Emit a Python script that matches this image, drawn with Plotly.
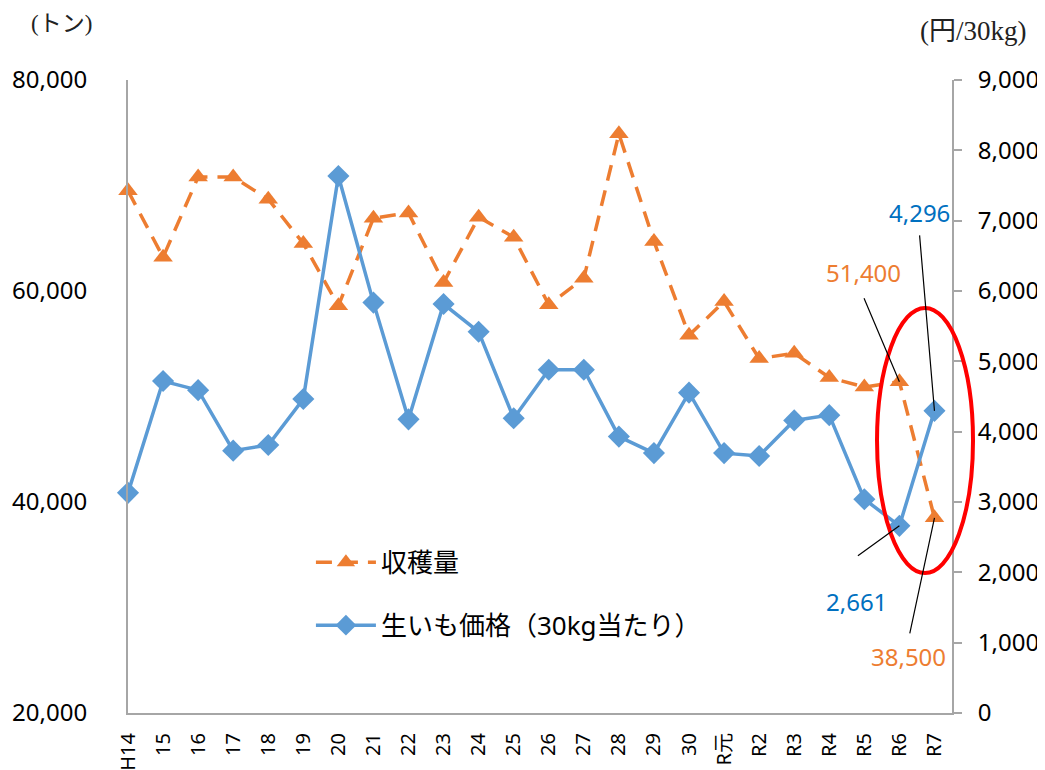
import plotly.graph_objects as go

years = ['H14', '15', '16', '17', '18', '19', '20', '21', '22', '23', '24', '25',
         '26', '27', '28', '29', '30', 'R元', 'R2', 'R3', 'R4', 'R5', 'R6', 'R7']
harvest = [69500, 63200, 70800, 70800, 68700, 64500, 58600, 66900, 67400, 60800,
           67000, 65100, 58700, 61200, 74900, 64700, 55800, 59000, 53600, 54100,
           51800, 50900, 51400, 38500]
price = [3130, 4720, 4590, 3730, 3810, 4465, 7635, 5835, 4175, 5815, 5420, 4190,
         4880, 4880, 3930, 3695, 4555, 3695, 3655, 4160, 4235, 3040, 2661, 4296]

ORANGE = '#ED7D31'
BLUE = '#5B9BD5'
AXIS = '#A6A6A6'
FONT = 'Noto Sans, Noto Sans CJK JP'
SERIF = 'Liberation Serif, Noto Sans CJK JP'

fig = go.Figure()
fig.add_trace(go.Scatter(
    x=years, y=harvest, name='収穫量', yaxis='y', legendgroup='a',
    mode='lines+markers', cliponaxis=False,
    line=dict(color=ORANGE, width=3.5, dash='16px,10px'),
    marker=dict(symbol='triangle-up', size=17, color=ORANGE),
))
fig.add_trace(go.Scatter(
    x=years, y=price, name='生いも価格（30kg当たり）', yaxis='y2', legendgroup='b',
    mode='lines+markers', cliponaxis=False,
    line=dict(color=BLUE, width=3.5),
    marker=dict(symbol='diamond', size=17, color=BLUE),
))

# value labels on the last two years, with leader lines
labels = [
    # (x, y value, axis, text, colour, text shift, line tail offset)
    ('R7', price[-1], 'y2', f'{price[-1]:,}', '#0070C0', (-15, 198), (-15, -177)),
    ('R6', harvest[-2], 'y', f'{harvest[-2]:,}', ORANGE, (-36, 109), (-36, -85)),
    ('R6', price[-2], 'y2', f'{price[-2]:,}', '#0070C0', (-43, -76), (-43, 31)),
    ('R7', harvest[-1], 'y', f'{harvest[-1]:,}', ORANGE, (-26, -139), (-25, 117)),
]
for x, y, yref, text, color, shift, tail in labels:
    fig.add_annotation(x=x, y=y, xref='x', yref=yref, text=text, showarrow=False,
                       xshift=shift[0], yshift=shift[1],
                       font=dict(size=24, color=color, family=FONT))
    fig.add_annotation(x=x, y=y, xref='x', yref=yref, text='', showarrow=True,
                       arrowhead=0, arrowwidth=1.2, arrowcolor='black',
                       ax=tail[0], ay=tail[1])

# red ellipse highlighting R6-R7
fig.add_shape(type='circle', xref='paper', yref='paper', x0=0.909, x1=1.0255,
              y0=0.221, y1=0.640, line=dict(color='#FF0000', width=4))

fig.add_annotation(text='(トン)', xref='paper', yref='paper', x=-0.081, y=1.09,
                   xanchor='center', yanchor='middle', showarrow=False,
                   font=dict(size=23, color='#222', family=SERIF))
fig.add_annotation(text='(円/30kg)', xref='paper', yref='paper', x=1.026, y=1.078,
                   xanchor='center', yanchor='middle', showarrow=False,
                   font=dict(size=27, color='#222', family=SERIF))

# the page body shifts the figure by 8px, so it is drawn 8px smaller
fig.update_layout(
    width=1037, height=762,
    margin=dict(l=120, r=93, t=72, b=57),
    plot_bgcolor='white', paper_bgcolor='white',
    font=dict(family=FONT, size=24, color='black'),
    xaxis=dict(type='category', range=[0, 23.5], showline=True, linecolor=AXIS,
               linewidth=2, ticks='', tickangle=-90, ticklabelstandoff=10,
               tickfont=dict(size=20), automargin=False, showgrid=False),
    yaxis=dict(range=[20000, 80000], dtick=20000, tickformat=',', showline=True,
               linecolor=AXIS, linewidth=2, ticks='', ticklabelstandoff=34,
               showgrid=False, zeroline=False, automargin=False),
    yaxis2=dict(range=[0, 9000], dtick=1000, tickformat=',', overlaying='y', side='right',
                showline=True, linecolor=AXIS, linewidth=2, ticks='outside', ticklen=8,
                tickcolor=AXIS, tickwidth=2, ticklabelstandoff=11, showgrid=False,
                zeroline=False, automargin=False),
    legend=dict(x=0.222, y=0.275, xanchor='left', yanchor='top', traceorder='grouped',
                tracegroupgap=26, itemwidth=60, font=dict(size=26, family=FONT),
                bgcolor='rgba(0,0,0,0)'),
)

fig.write_html('out.html')
